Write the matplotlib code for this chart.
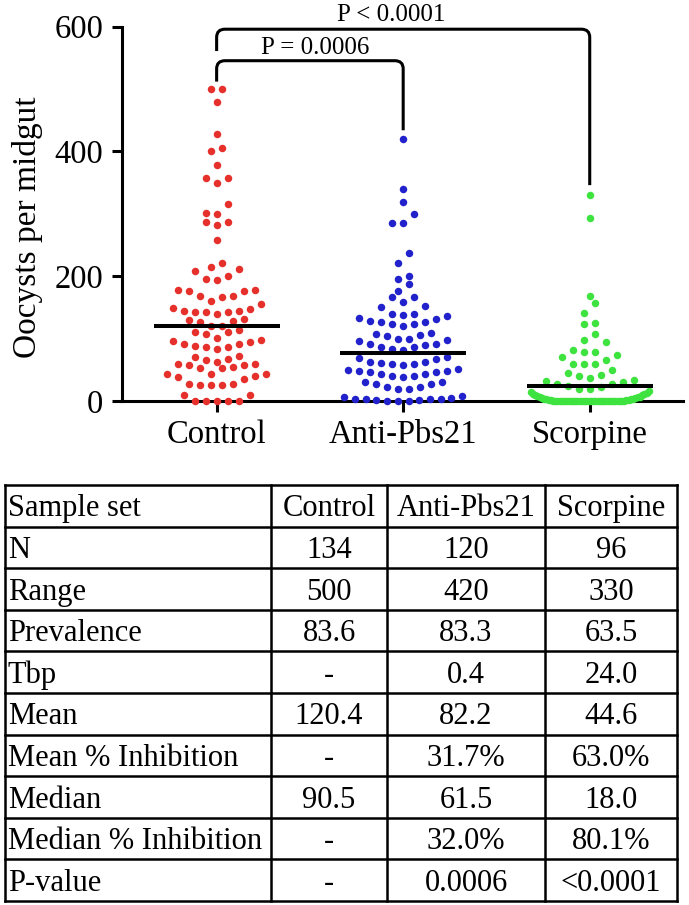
import numpy as np
import matplotlib
matplotlib.use('Agg')
import matplotlib.pyplot as plt
from matplotlib.path import Path
from matplotlib.patches import PathPatch

plt.rcParams['font.family'] = ['Liberation Serif', 'DejaVu Serif']

# ---------------- data ----------------
categories = ['Control', 'Anti-Pbs21', 'Scorpine']

control = [500, 500, 480, 428, 400, 405, 378, 357, 357, 350, 315, 302, 300, 287, 282, 287,
           258, 222, 209, 214, 211, 196, 194, 201,
           178, 176, 169, 161, 166, 169, 176, 178,
           149, 144, 142, 142, 140, 142, 144, 148, 156,
           130, 126, 120, 120, 128, 132,
           110, 107, 101, 110, 114,
           97, 94, 91, 86, 83, 86, 88, 91, 96,
           70, 66, 63, 68, 72,
           59, 57, 53, 44, 43, 43, 53, 55, 58, 60,
           40, 35, 28, 26, 26, 26, 27, 38,
           9, 0, 0, 0, 0, 0, 9]

anti_pbs21 = [420, 340, 319, 300, 285, 285, 237, 221, 195, 200, 188, 176,
              166, 153, 150, 158, 166,
              139, 138, 133, 128, 126, 123, 123, 127, 131, 136, 139,
              109, 104, 105, 108, 120,
              100, 97, 92, 89, 86, 82, 83, 86, 91, 96, 100,
              70, 62, 61, 59, 58, 59, 62, 67, 69,
              50, 48, 46, 43, 40, 39, 40, 43, 46, 48, 51,
              31, 27, 23, 19, 19, 23, 27, 31,
              6, 4, 3, 1, 0, 0, 0, 1, 3, 4, 5, 8]

scorpine = [330, 293, 168, 157, 141, 123, 125, 108, 97, 94,
            74, 81, 78, 79, 71, 65, 59, 59, 59, 50, 45, 40, 41,
            34, 30, 27, 24, 19, 16, 19, 23, 28, 32, 37,
            0, 0, 0, 0, 0, 0, 0, 0, 0, 0, 0, 0, 0, 0, 0, 0, 0, 0,
            0, 0, 0, 0, 0, 0, 0, 0, 0, 0, 0, 0, 0, 0, 0,
            1, 1, 2, 2, 3, 3, 4, 4, 5, 5, 6, 6, 7, 8, 9, 10, 11, 12, 13, 14]

center_lines = [120.4, 76.5, 24.0]
y_ticks = [0, 200, 400, 600]
y_label = 'Oocysts per midgut'
comparisons = ['P = 0.0006', 'P < 0.0001']

table_header = ['Sample set', 'Control', 'Anti-Pbs21', 'Scorpine']
row_labels = ['N', 'Range', 'Prevalence', 'Tbp', 'Mean', 'Mean % Inhibition',
              'Median', 'Median % Inhibition', 'P-value']
col_control = ['134', '500', '83.6', '-', '120.4', '-', '90.5', '-', '-']
col_anti = ['120', '420', '83.3', '0.4', '82.2', '31.7%', '61.5', '32.0%', '0.0006']
col_scorpine = ['96', '330', '63.5', '24.0', '44.6', '63.0%', '18.0', '80.1%', '<0.0001']

colors = ['#E5302C', '#2222CC', '#3FE33F']

# ---------------- figure ----------------
W_PX, H_PX = 689, 905
fig = plt.figure(figsize=(W_PX / 100, H_PX / 100), dpi=100)
fig.patch.set_facecolor('white')

ax = fig.add_axes([121.5 / W_PX, (H_PX - 401) / H_PX, 561.5 / W_PX, 374.3 / H_PX])
ax.set_xlim(-0.51, 2.5)
ax.set_ylim(0, 600)

p0 = ax.transData.transform((0, 0))
p1 = ax.transData.transform((1, 1))
px_per_cat = p1[0] - p0[0]
px_per_unit = p1[1] - p0[1]


def row_swarm(values, dot_px=11.0, max_span=118.0):
    """GraphPad-like scatter: group values into rows one dot high, spread each row
    symmetrically (smallest values in the middle)."""
    vals = np.sort(np.asarray(values, dtype=float))
    h = dot_px / px_per_unit
    xs, ys = [], []
    k = 0
    while k < len(vals):
        start = vals[k]
        row = [v for v in vals[k:] if v < start + h]
        n = len(row)
        k += n
        step = dot_px if n < 2 else min(dot_px, max_span / (n - 1))
        slots = [(j - (n - 1) / 2) * step for j in range(n)]
        order = sorted(slots, key=lambda s: (round(abs(s), 4), s))
        # alternate sides for equal |offset|
        for v, s in zip(row, order):
            xs.append(s / px_per_cat)
            ys.append(v)
    return np.array(xs), np.array(ys)


groups = [control, anti_pbs21, scorpine]
for i, (vals, col) in enumerate(zip(groups, colors)):
    xo, ys = row_swarm(vals)
    ax.plot(i + xo, ys, 'o', ms=5.4, mec='none', color=col, clip_on=False, zorder=3)
    ax.plot([i - 0.338, i + 0.338], [center_lines[i], center_lines[i]], color='black',
            lw=2.9, solid_capstyle='butt', zorder=4, clip_on=False)

# axes styling
for s in ['top', 'right']:
    ax.spines[s].set_visible(False)
for s in ['left', 'bottom']:
    ax.spines[s].set_linewidth(2.2)
    ax.spines[s].set_zorder(2.5)
ax.spines['left'].set_bounds(0, 600)
ax.set_xticks(range(len(categories)))
ax.set_xticklabels(categories)
ax.set_yticks(y_ticks)
ax.set_yticklabels([str(t) for t in y_ticks])
ax.tick_params(axis='x', direction='out', width=2.2, length=8, labelsize=23.5, pad=5)
ax.tick_params(axis='y', direction='out', width=2.2, length=7, labelsize=23.5, pad=6)
ax.text(-0.168, 0.465, y_label, transform=ax.transAxes, rotation=90,
        ha='center', va='center', fontsize=24)


def bracket(i, j, ytop, yl, yr, rx=0.045, ry=13):
    verts = [(i, yl), (i, ytop - ry), (i, ytop), (i + rx, ytop), (j - rx, ytop),
             (j, ytop), (j, ytop - ry), (j, yr)]
    codes = [Path.MOVETO, Path.LINETO, Path.CURVE3, Path.CURVE3, Path.LINETO,
             Path.CURVE3, Path.CURVE3, Path.LINETO]
    ax.add_patch(PathPatch(Path(verts, codes), fill=False, lw=2.2, color='black',
                           clip_on=False, zorder=5))


bracket(0, 1, 545.5, 512, 434)
bracket(0, 2, 596, 561, 346)
ax.text(0.53, 557, comparisons[0], ha='center', va='baseline', fontsize=18, clip_on=False)
ax.text(0.935, 609, comparisons[1], ha='center', va='baseline', fontsize=18, clip_on=False)

# ---------------- table ----------------
tax = fig.add_axes([0, 0, 1, 1])
tax.set_xlim(0, W_PX)
tax.set_ylim(H_PX, 0)
tax.axis('off')

t_top, t_bot = 485.0, 901.0
col_x = [5, 271, 387, 545, 677]
n_rows = len(row_labels) + 1
row_h = (t_bot - t_top) / n_rows
for k in range(n_rows + 1):
    y = t_top + k * row_h
    tax.plot([col_x[0], col_x[-1]], [y, y], color='black', lw=1.8, solid_capstyle='projecting')
for x in col_x:
    tax.plot([x, x], [t_top, t_bot], color='black', lw=1.8, solid_capstyle='projecting')

col_centers = [(col_x[k] + col_x[k + 1]) / 2 for k in range(1, 4)]
rows = [table_header] + [[row_labels[r], col_control[r], col_anti[r], col_scorpine[r]]
                         for r in range(len(row_labels))]
for r, row in enumerate(rows):
    yb = t_top + (r + 0.5) * row_h + 10.5
    tax.text(col_x[0] + 3, yb, row[0], ha='left', va='baseline', fontsize=22)
    for c in range(3):
        tax.text(col_centers[c], yb, row[c + 1], ha='center', va='baseline', fontsize=22)

fig.savefig('out.png', dpi=100, facecolor='white')
